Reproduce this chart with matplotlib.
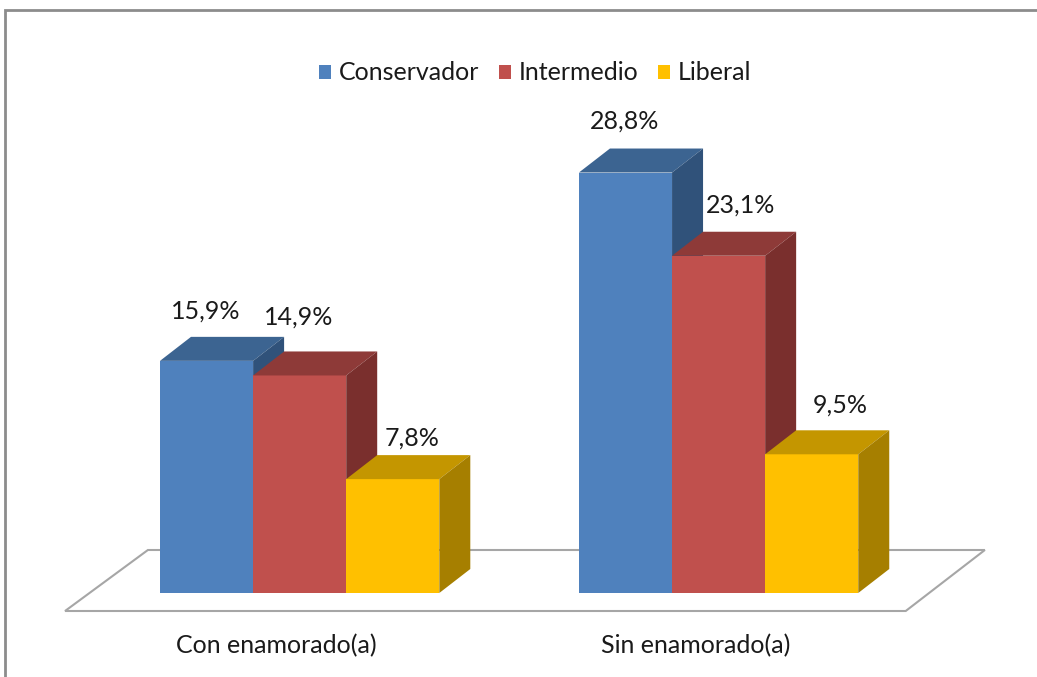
import matplotlib
matplotlib.use("Agg")
import matplotlib.pyplot as plt
from matplotlib.patches import Polygon, Rectangle, Patch

categories = ["Con enamorado(a)", "Sin enamorado(a)"]
series = ["Conservador", "Intermedio", "Liberal"]
conservador = [15.9, 28.8]
intermedio = [14.9, 23.1]
liberal = [7.8, 9.5]
values = [conservador, intermedio, liberal]

front_cols = ["#4F81BD", "#C0504D", "#FFC000"]
top_cols = ["#3C6491", "#8E3A38", "#C49600"]
side_cols = ["#30527A", "#7A2F2D", "#A67F00"]

W, H = 1037, 677
fig = plt.figure(figsize=(W / 100, H / 100), dpi=100)
ax = fig.add_axes([0, 0, 1, 1])
# data scale: x in bar-slot units, y in percent
px_per_u = 93.1
px_per_v = 14.6
x0_px, base_px = 160, 593
ax.set_xlim(-x0_px / px_per_u, (W - x0_px) / px_per_u)
ax.set_ylim(-(H - base_px) / px_per_v, base_px / px_per_v)
ax.axis("off")

font = "Lato"
fs = 18
dx = 31 / px_per_u
dy = 24 / px_per_v

# floor
fl_front = -18 / px_per_v
fl_back = 43 / px_per_v
floor = Polygon([(-1.02, fl_front), (8.01, fl_front), (8.86, fl_back), (-0.13, fl_back)],
                closed=True, facecolor="white", edgecolor="#A6A6A6", lw=1.5, zorder=1)
ax.add_patch(floor)

group_start = [0.0, 4.5]
label_dx = [[-0.01, -0.01], [-0.01, 0.24], [0.21, 0.31]]
label_dy = [[1.8, 1.9], [2.35, 1.85], [1.2, 1.75]]

for gi, g0 in enumerate(group_start):
    for si in range(3):
        v = values[si][gi]
        xl = g0 + si
        xr = xl + 1
        z = 2 + si
        ax.add_patch(Rectangle((xl, 0), 1, v, facecolor=front_cols[si], edgecolor="none", zorder=z))
        ax.add_patch(Polygon([(xl, v), (xr, v), (xr + dx, v + dy), (xl + dx, v + dy)],
                             facecolor=top_cols[si], edgecolor="none", zorder=z))
        ax.add_patch(Polygon([(xr, 0), (xr + dx, dy), (xr + dx, v + dy), (xr, v)],
                             facecolor=side_cols[si], edgecolor="none", zorder=z))
        ax.text(xl + 0.5 + label_dx[si][gi], v + dy + label_dy[si][gi], f"{v:.1f}%".replace(".", ","),
                ha="center", va="center", fontsize=fs, family=font, color="#1a1a1a", zorder=10)

for gi, g0 in enumerate(group_start):
    ax.text(g0 + 1.25, -(646 - base_px) / px_per_v, categories[gi], ha="center", va="center",
            fontsize=fs, family=font, color="#1a1a1a")

handles = [Patch(facecolor=c, edgecolor="none") for c in front_cols]
leg = fig.legend(handles, series, loc="center", bbox_to_anchor=(535 / W, 1 - 73 / H), ncol=3,
                 frameon=False, handlelength=0.48, handleheight=0.48, handletextpad=0.3,
                 columnspacing=0.8, prop={"family": font, "size": fs})
for t in leg.get_texts():
    t.set_color("#1a1a1a")

# outer chart border
fig.add_artist(Rectangle((5 / W, -0.1), 1.2, 1.1 - 10 / H, transform=fig.transFigure,
                         facecolor="none", edgecolor="#8C8C8C", lw=2))

fig.savefig("out.png", dpi=100, facecolor="white")
